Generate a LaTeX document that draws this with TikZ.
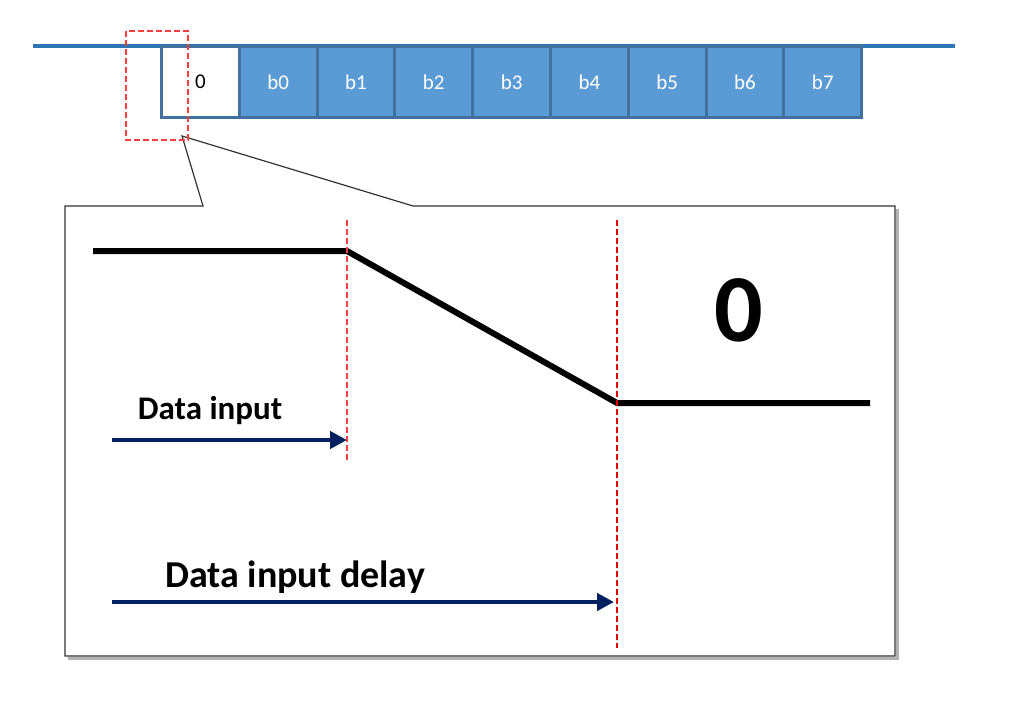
\documentclass[tikz,border=0pt]{standalone}
\usepackage{fontspec}
\setmainfont{Carlito}
\usetikzlibrary{arrows.meta}
\definecolor{busblue}{HTML}{2E75B6}
\definecolor{cellfill}{HTML}{5B9BD5}
\definecolor{cellline}{HTML}{41719C}
\definecolor{navy}{HTML}{002060}
\definecolor{dashred}{HTML}{FF4040}
\tikzset{
  cellbox/.style={draw=cellline, line width=3pt, fill=cellfill, minimum width=77.8pt, minimum height=70pt, inner sep=0pt, anchor=west, text=white, font=\fontsize{21}{24}\selectfont},
  whitecell/.style={cellbox, fill=white, text=black},
  marker/.style={draw=dashred, line width=1.2pt, dash pattern=on 6pt off 3pt},
  signal/.style={line width=6pt, line join=miter},
  timearrow/.style={draw=navy, line width=4.5pt, -{Triangle[length=17pt, width=17pt]}},
  lbl/.style={font=\bfseries, inner sep=0pt}
}
\begin{document}
\begin{tikzpicture}[x=1pt, y=-1pt]
\useasboundingbox (0,0) rectangle (1024,717);
% bus line
\draw[busblue, line width=3.2pt] (33,46) -- (955,46);
% cells
\node[whitecell] (c0) at (160,82) {0};
\foreach \i/\t in {1/b0,2/b1,3/b2,4/b3,5/b4,6/b5,7/b6,8/b7}{
  \node[cellbox] (c\i) at ({160+77.8*\i},82) {\t};
}
% callout shadow
\draw[gray!60, line width=2.5pt] (897.5,209) -- (897.5,658.5) -- (68,658.5);
% callout
\draw[black!80, line width=1.2pt, fill=white]
  (65,206) -- (203,206) -- (182,136) -- (413,206) -- (895,206) -- (895,656) -- (65,656) -- cycle;
% red dashed zoom marker
\draw[marker] (126,31) rectangle (188,140);
% signal
\coordinate (s0) at (93,251);
\coordinate (s1) at (347,251);
\coordinate (s2) at (617,403);
\coordinate (s3) at (870,403);
\draw[signal] (s0) -- (s1) -- (s2) -- (s3);
% dashed verticals
\coordinate (v1t) at (347,220);
\coordinate (v1b) at (347,462);
\coordinate (v2t) at (617,220);
\coordinate (v2b) at (617,648);
\draw[marker] (v1t) -- (v1b);
\draw[marker, draw=red!90!black, line width=1.1pt] (v2t) -- (v2b);
% big zero
\node[lbl, font=\bfseries\fontsize{96}{100}\selectfont] (zero) at (739,310) {0};
% arrows
\coordinate (a1s) at (112,440);
\coordinate (a1e) at (347,440);
\draw[timearrow] (a1s) -- (a1e);
\node[lbl, font=\bfseries\fontsize{33}{36}\selectfont] (l1) at (210,411) {Data input};
\coordinate (a2s) at (112,602);
\coordinate (a2e) at (614,602);
\draw[timearrow] (a2s) -- (a2e);
\node[lbl, font=\bfseries\fontsize{38}{42}\selectfont] (l2) at (295,577) {Data input delay};
\end{tikzpicture}
\end{document}
